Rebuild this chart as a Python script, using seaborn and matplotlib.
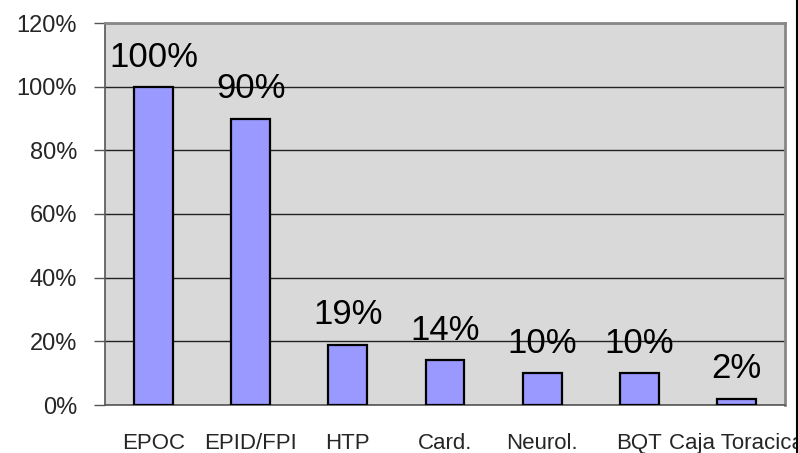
import matplotlib
matplotlib.use("Agg")
import matplotlib.pyplot as plt
from matplotlib.lines import Line2D
from matplotlib.ticker import FixedLocator, FuncFormatter
import seaborn as sns
import pandas as pd

categories = ["EPOC", "EPID/FPI", "HTP", "Card.", "Neurol.", "BQT", "Caja Toracica"]
values = [100, 90, 19, 14, 10, 10, 2]
y_ticks = [0, 20, 40, 60, 80, 100, 120]

sns.set_style("white")
plt.rcParams["font.family"] = ["Liberation Sans", "DejaVu Sans"]

df = pd.DataFrame({"categoria": categories, "valor": values})

fig = plt.figure(figsize=(7.98, 4.53), dpi=100)
ax = fig.add_axes([105 / 798, 48 / 453, 680 / 798, 382 / 453])
ax.set_facecolor("#D9D9D9")

sns.barplot(data=df, x="categoria", y="valor", color="#9999FF", saturation=1,
            width=0.4, edgecolor="black", linewidth=1.6, ax=ax, zorder=3)

ax.set_ylim(0, 120)
ax.set_xlim(-0.5, len(categories) - 0.5)
ax.yaxis.set_major_locator(FixedLocator(y_ticks))
ax.yaxis.set_major_formatter(FuncFormatter(lambda v, p: f"{int(v)}%"))
ax.grid(axis="y", color="#222222", linewidth=1.0, zorder=1)
ax.set_axisbelow(True)

# category labels at centres, tick marks at category boundaries
ax.tick_params(axis="x", which="major", length=0, pad=20, labelsize=16)
ax.xaxis.set_minor_locator(FixedLocator([i - 0.5 for i in range(len(categories) + 1)]))
ax.tick_params(axis="x", which="minor", length=8, width=1, color="#555555", direction="out")
ax.tick_params(axis="y", length=8, width=1, color="#555555", direction="out", pad=12, labelsize=17)
ax.tick_params(axis="both", bottom=True, left=True)

for side in ["left", "bottom"]:
    ax.spines[side].set_color("#555555")
    ax.spines[side].set_linewidth(1.2)
for side in ["top", "right"]:
    ax.spines[side].set_color("#888888")
    ax.spines[side].set_linewidth(2)

ax.set_xlabel("")
ax.set_ylabel("")

for i, v in enumerate(values):
    ax.annotate(f"{v}%", (i, v), xytext=(0, 14.5), textcoords="offset points",
                ha="center", va="baseline", fontsize=25, color="black", zorder=4)

fig.add_artist(Line2D([797 / 798, 797 / 798], [0, 1], color="black", linewidth=1.5,
                      transform=fig.transFigure))

fig.savefig("out.png", dpi=100)
